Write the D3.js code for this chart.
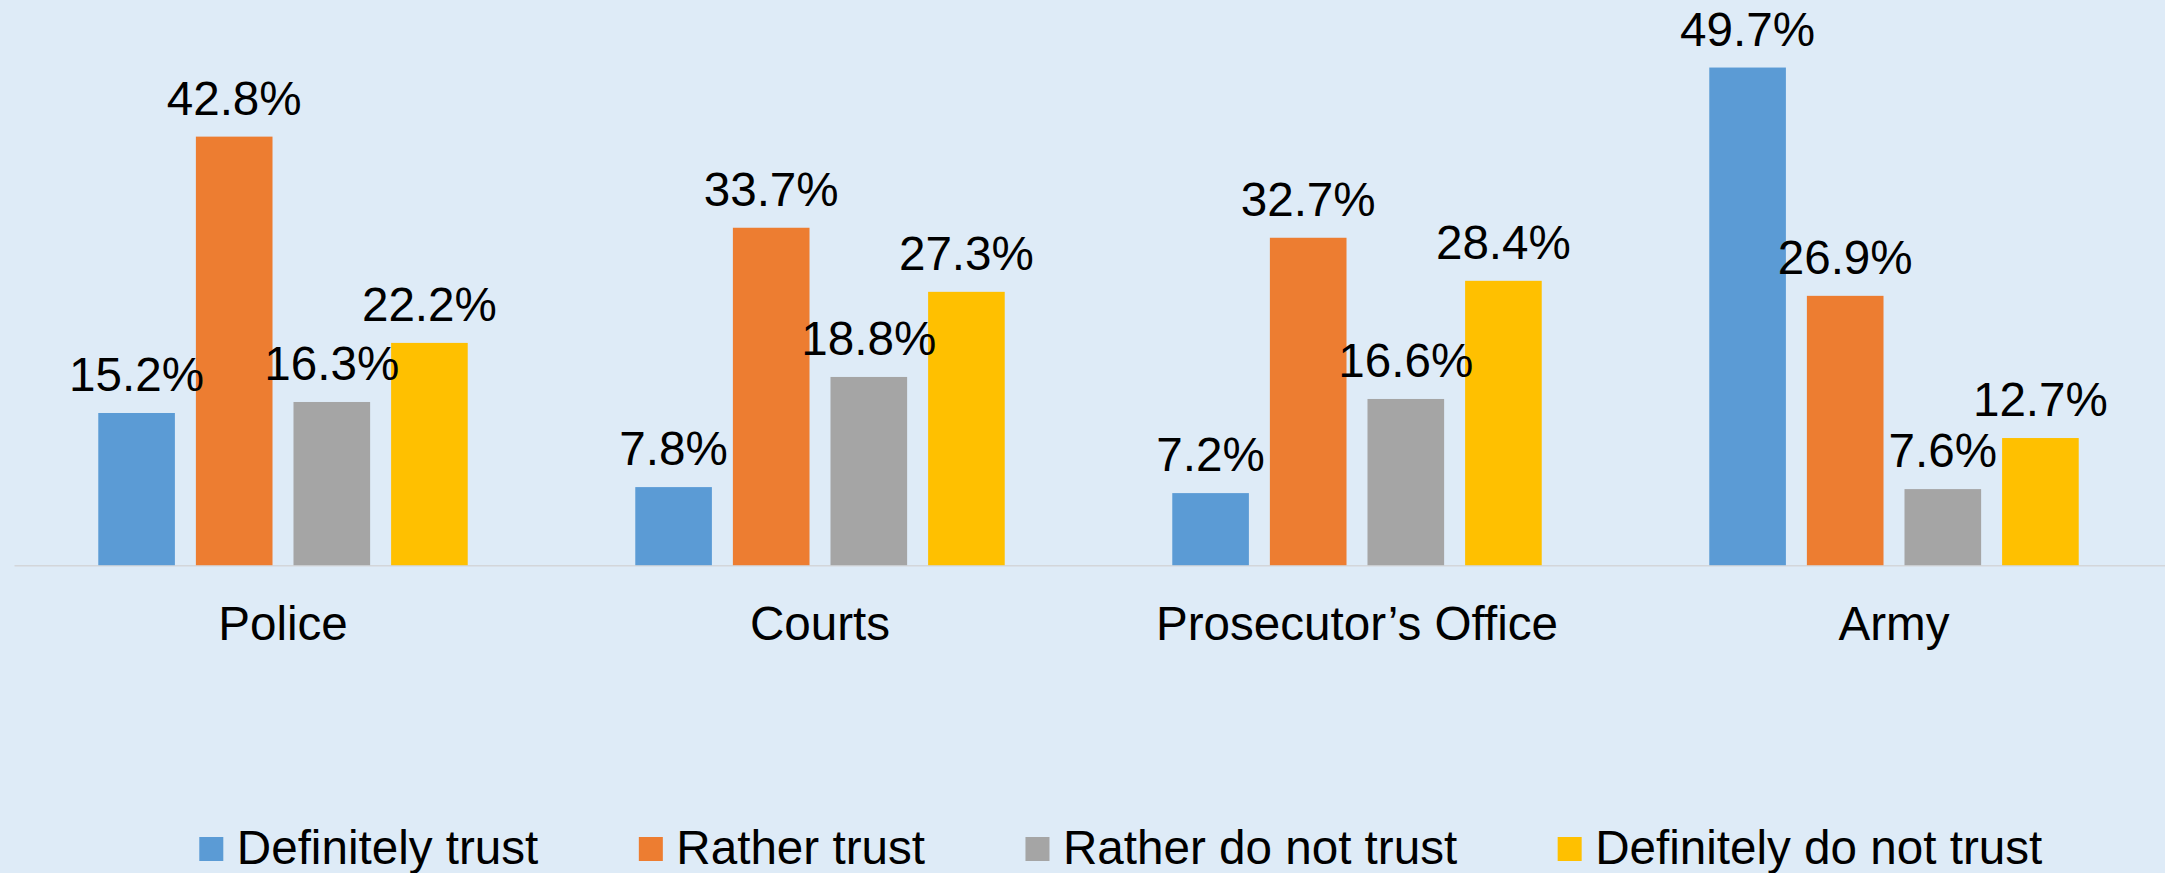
<!DOCTYPE html>
<html>
<head>
<meta charset="utf-8">
<script src="https://cdn.jsdelivr.net/npm/d3@7"></script>
<style>
  html, body { margin: 0; padding: 0; background: #DEEBF7; }
  svg { display: block; font-family: Arial, "Liberation Sans", sans-serif; }
</style>
</head>
<body>
<svg id="chart" width="2165" height="873"></svg>
<script>
const categories = ["Police", "Courts", "Prosecutor\u2019s Office", "Army"];
const seriesNames = ["Definitely trust", "Rather trust", "Rather do not trust", "Definitely do not trust"];
const definitelyTrust = [15.2, 7.8, 7.2, 49.7];
const ratherTrust = [42.8, 33.7, 32.7, 26.9];
const ratherNotTrust = [16.3, 18.8, 16.6, 7.6];
const definitelyNotTrust = [22.2, 27.3, 28.4, 12.7];
const colors = ["#5B9BD5", "#ED7D31", "#A5A5A5", "#FFC000"];

const seriesValues = [definitelyTrust, ratherTrust, ratherNotTrust, definitelyNotTrust];

const W = 2165, H = 873;
const svg = d3.select("#chart");
svg.append("rect").attr("width", W).attr("height", H).attr("fill", "#DEEBF7");

const baseY = 565.2;
const x0 = d3.scaleBand().domain(categories).range([14.5, 2162.5]).paddingInner(0.312).paddingOuter(0.156);
const x1 = d3.scaleBand().domain(seriesNames).range([0, x0.bandwidth()]).paddingInner(0.215).paddingOuter(0);
const y = d3.scaleLinear().domain([0, 60]).range([baseY, baseY - 600.8]);

const fontSize = 47.6;

// axis line
svg.append("line")
  .attr("x1", 14.5).attr("x2", W)
  .attr("y1", baseY + 0.5).attr("y2", baseY + 0.5)
  .attr("stroke", "#D3D6DA").attr("stroke-width", 1.5);

const groups = svg.selectAll("g.cat")
  .data(categories)
  .join("g")
  .attr("class", "cat")
  .attr("transform", d => `translate(${x0(d)},0)`);

groups.each(function(cat, ci) {
  const g = d3.select(this);
  const rows = seriesNames.map((s, si) => ({ s, si, v: seriesValues[si][ci] }));
  g.selectAll("rect")
    .data(rows)
    .join("rect")
    .attr("x", d => x1(d.s))
    .attr("width", x1.bandwidth())
    .attr("y", d => y(d.v))
    .attr("height", d => baseY - y(d.v))
    .attr("fill", d => colors[d.si]);
  g.selectAll("text.lbl")
    .data(rows)
    .join("text")
    .attr("class", "lbl")
    .attr("x", d => x1(d.s) + x1.bandwidth() / 2)
    .attr("y", d => y(d.v) - 22)
    .attr("text-anchor", "middle")
    .attr("font-size", fontSize)
    .attr("fill", "#000")
    .text(d => d.v.toFixed(1) + "%");
});

// category labels
svg.selectAll("text.cat")
  .data(categories)
  .join("text")
  .attr("class", "cat")
  .attr("x", d => x0(d) + x0.bandwidth() / 2)
  .attr("y", 640)
  .attr("text-anchor", "middle")
  .attr("font-size", fontSize)
  .attr("fill", "#000")
  .text(d => d);

// legend
const legend = svg.append("g");
let lx = 199.3;
seriesNames.forEach((s, i) => {
  legend.append("rect")
    .attr("x", lx).attr("y", 837)
    .attr("width", 24).attr("height", 24)
    .attr("fill", colors[i]);
  const t = legend.append("text")
    .attr("x", lx + 37.5).attr("y", 864)
    .attr("font-size", fontSize)
    .attr("fill", "#000")
    .text(s);
  lx += 37.5 + t.node().getComputedTextLength() + 100.5;
});
</script>
</body>
</html>
